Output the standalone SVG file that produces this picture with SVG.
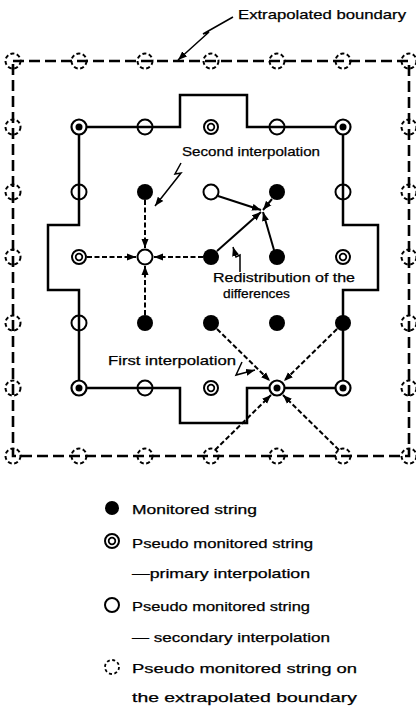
<svg xmlns="http://www.w3.org/2000/svg" width="416" height="711" viewBox="0 0 416 711">
<style>
text{font-family:"Liberation Sans","DejaVu Sans",sans-serif;font-size:13px;fill:#000;stroke:#000;stroke-width:0.25}
.bd{fill:none;stroke:#000;stroke-width:2.6;stroke-dasharray:11 5}
.bl{fill:none;stroke:#000;stroke-width:2.5}
.dc{fill:none;stroke:#000;stroke-width:2;stroke-dasharray:4 2.5}
.f{fill:#000}
.o{fill:none;stroke:#000;stroke-width:2}
.ow{fill:#fff;stroke:#000;stroke-width:2}
.da{fill:none;stroke:#000;stroke-width:2;stroke-dasharray:5 2.5;marker-end:url(#ah)}
.sa{fill:none;stroke:#000;stroke-width:2;marker-end:url(#ah)}
.ld{fill:none;stroke:#000;stroke-width:1.5;marker-end:url(#ah)}
</style>
<defs>
<marker id="ah" markerUnits="userSpaceOnUse" markerWidth="10" markerHeight="8" refX="9" refY="4" orient="auto">
<path d="M0,0.5 L9,4 L0,7.5 Z" fill="#000"/>
</marker>
<g id="pp"><circle r="7.5" fill="#fff" stroke="#000" stroke-width="2.2"/><circle r="3.5" fill="#000"/></g>
<g id="pd"><circle r="7" fill="#fff" stroke="#000" stroke-width="2"/><circle r="3.3" fill="none" stroke="#000" stroke-width="1.8"/></g>
</defs>

<g id="boundaries">
<rect class="bd" x="13" y="61" width="396" height="395"/>
<path class="bl" d="M79,127 H180 V95 H247 V127 H343 V225 H378 V290 H343 V388 H247 V423 H180 V388 H79 V290 H48 V225 H79 Z"/>
</g>

<g id="connectors">
<path class="da" d="M145,200 V248"/>
<path class="da" d="M87,257 H136"/>
<path class="da" d="M203,257 H154"/>
<path class="da" d="M145,315 V266"/>
<path class="sa" d="M218,196 L261,210"/>
<path class="sa" d="M272,199 L263,210"/>
<path class="sa" d="M217,251 L261,212"/>
<path class="sa" d="M274,250 L263,212"/>
<path class="da" d="M217,329 L270,381"/>
<path class="da" d="M337,329 L284,381"/>
<path class="da" d="M215,450 L271,395"/>
<path class="da" d="M339,450 L283,395"/>
<path class="ld" d="M233,17 L203,34 L209,32 L178,60"/>
<path class="ld" d="M181,163 L175,174 L181,173 L155,206"/>
<path class="ld" d="M240,272 L240,255 L236,257 L233,247"/>
<path class="ld" d="M242,362 L236,375 L255,370"/>
</g>

<g id="extrapolated-nodes">
<circle class="dc" cx="13" cy="61" r="7.5"/><circle class="dc" cx="79" cy="61" r="7.5"/><circle class="dc" cx="145" cy="61" r="7.5"/><circle class="dc" cx="211" cy="61" r="7.5"/><circle class="dc" cx="277" cy="61" r="7.5"/><circle class="dc" cx="343" cy="61" r="7.5"/><circle class="dc" cx="409" cy="61" r="7.5"/>
<circle class="dc" cx="13" cy="456" r="7.5"/><circle class="dc" cx="79" cy="456" r="7.5"/><circle class="dc" cx="145" cy="456" r="7.5"/><circle class="dc" cx="211" cy="456" r="7.5"/><circle class="dc" cx="277" cy="456" r="7.5"/><circle class="dc" cx="343" cy="456" r="7.5"/><circle class="dc" cx="409" cy="456" r="7.5"/>
<circle class="dc" cx="13" cy="127" r="7.5"/><circle class="dc" cx="13" cy="192" r="7.5"/><circle class="dc" cx="13" cy="257" r="7.5"/><circle class="dc" cx="13" cy="323" r="7.5"/><circle class="dc" cx="13" cy="388" r="7.5"/>
<circle class="dc" cx="409" cy="127" r="7.5"/><circle class="dc" cx="409" cy="192" r="7.5"/><circle class="dc" cx="409" cy="257" r="7.5"/><circle class="dc" cx="409" cy="323" r="7.5"/><circle class="dc" cx="409" cy="388" r="7.5"/>
</g>

<g id="monitored-nodes">
<circle class="f" cx="145" cy="192" r="8"/><circle class="f" cx="277" cy="192" r="8"/>
<circle class="f" cx="211" cy="257" r="8"/><circle class="f" cx="277" cy="257" r="8"/>
<circle class="f" cx="145" cy="323" r="8"/><circle class="f" cx="211" cy="323" r="8"/><circle class="f" cx="277" cy="323" r="8"/><circle class="f" cx="343" cy="323" r="8"/>
</g>

<g id="secondary-nodes">
<circle class="o" cx="145" cy="127" r="7.5"/><circle class="o" cx="277" cy="127" r="7.5"/>
<circle class="o" cx="79" cy="192" r="7.5"/><circle class="o" cx="343" cy="192" r="7.5"/>
<circle class="o" cx="79" cy="323" r="7.5"/><circle class="o" cx="145" cy="388" r="7.5"/>
<circle class="ow" cx="211" cy="192" r="7.5"/><circle class="ow" cx="145" cy="257" r="7.5"/>
</g>

<g id="primary-nodes">
<use href="#pp" x="79" y="127"/><use href="#pp" x="343" y="127"/><use href="#pp" x="79" y="388"/><use href="#pp" x="277" y="388"/><use href="#pp" x="343" y="388"/>
<use href="#pd" x="211" y="127"/><use href="#pd" x="79" y="257"/><use href="#pd" x="343" y="257"/><use href="#pd" x="211" y="388"/>
</g>

<g id="labels">
<text x="238" y="19" textLength="168" lengthAdjust="spacingAndGlyphs">Extrapolated  boundary</text>
<text x="182" y="156" textLength="138" lengthAdjust="spacingAndGlyphs">Second interpolation</text>
<text x="213" y="282" textLength="142" lengthAdjust="spacingAndGlyphs">Redistribution of the</text>
<text x="223" y="298" textLength="67" lengthAdjust="spacingAndGlyphs">differences</text>
<text x="108" y="365" textLength="128" lengthAdjust="spacingAndGlyphs">First interpolation</text>
</g>

<g id="legend">
<circle cx="112" cy="508" r="7" fill="#000"/>
<g transform="translate(112,541)"><circle r="7" fill="none" stroke="#000" stroke-width="2"/><circle r="3.3" fill="none" stroke="#000" stroke-width="1.8"/></g>
<circle cx="112" cy="605" r="7" fill="none" stroke="#000" stroke-width="2"/>
<circle cx="112" cy="667" r="7" fill="none" stroke="#000" stroke-width="1.8" stroke-dasharray="3 2.5"/>
<text x="132" y="514" textLength="125" lengthAdjust="spacingAndGlyphs">Monitored  string</text>
<text x="132" y="548" textLength="181" lengthAdjust="spacingAndGlyphs">Pseudo monitored string</text>
<text x="132" y="578" textLength="178" lengthAdjust="spacingAndGlyphs">—primary interpolation</text>
<text x="132" y="611" textLength="178" lengthAdjust="spacingAndGlyphs">Pseudo monitored string</text>
<text x="132" y="642" textLength="198" lengthAdjust="spacingAndGlyphs">— secondary  interpolation</text>
<text x="132" y="673" textLength="225" lengthAdjust="spacingAndGlyphs">Pseudo  monitored  string  on</text>
<text x="132" y="702" textLength="225" lengthAdjust="spacingAndGlyphs">the  extrapolated  boundary</text>
</g>
</svg>
